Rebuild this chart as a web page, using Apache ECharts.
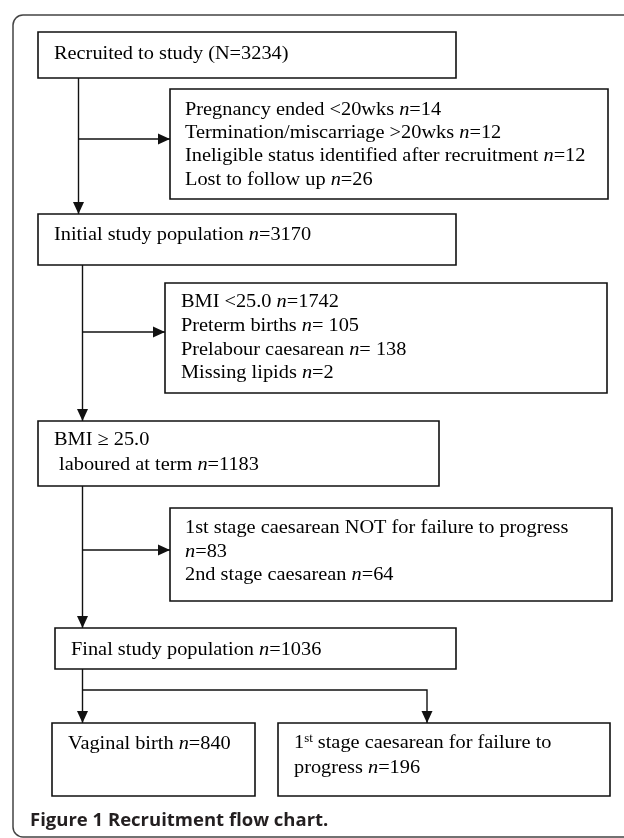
<!DOCTYPE html>
<html><head><meta charset="utf-8">
<script src="https://cdn.jsdelivr.net/npm/echarts@6/dist/echarts.min.js"></script>
<style>html,body{margin:0;padding:0;background:#fff}#c{width:624px;height:838px}</style>
</head><body><div id="c"></div>
<script>
// ---------------- data ----------------
const recruitedLabel = 'Recruited to study';
const recruitedN = 3234;
const exclusion1Labels = ['Pregnancy ended <20wks', 'Termination/miscarriage >20wks', 'Ineligible status identified after recruitment', 'Lost to follow up'];
const exclusion1Counts = [14, 12, 12, 26];
const initialLabel = 'Initial study population';
const initialN = 3170;
const exclusion2Labels = ['BMI <25.0', 'Preterm births', 'Prelabour caesarean', 'Missing lipids'];
const exclusion2Counts = [1742, 105, 138, 2];
const labouredLabels = ['BMI \u2265 25.0', ' laboured at term'];
const labouredN = 1183;
const exclusion3Labels = ['1st stage caesarean NOT for failure to progress', '2nd stage caesarean'];
const exclusion3Counts = [83, 64];
const finalLabel = 'Final study population';
const finalN = 1036;
const outcomeLabels = ['Vaginal birth', 'stage caesarean for failure to progress'];
const outcomeCounts = [840, 196];
const captionText = 'Figure 1 Recruitment flow chart.';

// ---------------- text lines (rich) ----------------
const nEq = (c, sp) => '{i|n}{r|=' + (sp ? ' ' : '') + c + '}';
const boxLines = [
  ['{r|' + recruitedLabel + ' (N=' + recruitedN + ')}'],
  exclusion1Labels.map((l, i) => '{r|' + l + ' }' + nEq(exclusion1Counts[i])),
  ['{r|' + initialLabel + ' }' + nEq(initialN)],
  exclusion2Labels.map((l, i) => '{r|' + l + ' }' + nEq(exclusion2Counts[i], i === 1 || i === 2)),
  ['{r|' + labouredLabels[0] + '}', '{r|' + labouredLabels[1] + ' }' + nEq(labouredN)],
  ['{r|' + exclusion3Labels[0] + '}', nEq(exclusion3Counts[0]), '{r|' + exclusion3Labels[1] + ' }' + nEq(exclusion3Counts[1])],
  ['{r|' + finalLabel + ' }' + nEq(finalN)],
  ['{r|' + outcomeLabels[0] + ' }' + nEq(outcomeCounts[0])],
  ['{r|1}{sup|st}{r| ' + outcomeLabels[1].replace(' progress', '') + '}', '{r|progress }' + nEq(outcomeCounts[1])]
];

// ---------------- layout (axis units) ----------------
const boxRects = [
  [38, 32, 456, 78], [170, 89, 608, 199], [38, 214, 456, 265], [165, 283, 607, 393],
  [38, 421, 439, 486], [170, 508, 612, 601], [55, 628, 456, 669], [52, 723, 255, 796], [278, 723, 610, 796]
];
const textX = [[54], [185, 185, 185, 185], [54], [181, 181, 181, 181], [54, 54], [185, 185, 185], [71], [68], [294, 294]];
const textY = [
  [54], [110, 133, 156, 180], [235], [302, 326, 350, 373], [440, 465], [528, 552, 575], [650], [744], [743, 768]
];
const connectors = [
  [[78.5, 78], [78.5, 214]],
  [[78.5, 139], [170, 139]],
  [[82.5, 265], [82.5, 421]],
  [[82.5, 332], [165, 332]],
  [[82.5, 486], [82.5, 628]],
  [[82.5, 550], [170, 550]],
  [[82.5, 669], [82.5, 723]],
  [[82.5, 690], [427, 690], [427, 723]]
];

const FS = 19, SX = 1.07;
const rich = {
  r: { fontFamily: 'Liberation Serif', fontSize: FS, color: '#000' },
  i: { fontFamily: 'Liberation Serif', fontSize: FS, fontStyle: 'italic', color: '#000' },
  sup: { fontFamily: 'Liberation Serif', fontSize: 12, color: '#000', verticalAlign: 'top', padding: [0, 0, 8, 0] }
};

const chart = echarts.init(document.getElementById('c'), null, { renderer: 'canvas' });
chart.setOption({
  animation: false,
  backgroundColor: '#fff',
  title: {
    text: captionText, left: 25, top: 806,
    textStyle: { fontFamily: 'Open Sans', fontWeight: 'bold', fontSize: 18.5, color: '#231f20' }
  },
  graphic: [{
    type: 'rect', shape: { x: 13, y: 15, width: 640, height: 822, r: 10 },
    style: { fill: 'none', stroke: '#444', lineWidth: 1.5 }, silent: true
  }],
  grid: { left: 0, right: 0, top: 0, bottom: 0 },
  xAxis: { type: 'value', min: 0, max: 624, show: false },
  yAxis: { type: 'value', min: 0, max: 838, inverse: true, show: false },
  series: [
    {
      type: 'custom', silent: true, clip: false,
      data: boxRects.map((b, i) => [i]),
      renderItem: function (params, api) {
        const i = params.dataIndex;
        const b = boxRects[i];
        const p0 = api.coord([b[0], b[1]]);
        const p1 = api.coord([b[2], b[3]]);
        const children = [{
          type: 'rect',
          shape: { x: p0[0], y: p0[1], width: p1[0] - p0[0], height: p1[1] - p0[1] },
          style: { fill: '#fff', stroke: '#111', lineWidth: 1.6 }
        }];
        boxLines[i].forEach((t, k) => {
          const tp = api.coord([textX[i][k], textY[i][k]]);
          children.push({
            type: 'text', x: tp[0], y: tp[1], scaleX: SX,
            style: { text: t, x: 0, y: 0, verticalAlign: 'middle', align: 'left', rich: rich }
          });
        });
        return { type: 'group', children: children };
      }
    },
    {
      type: 'custom', silent: true, clip: false,
      data: connectors.map((c, i) => [i]),
      renderItem: function (params, api) {
        const pts = connectors[params.dataIndex].map(p => api.coord(p));
        const a = pts[pts.length - 2], e = pts[pts.length - 1];
        const dx = e[0] - a[0], dy = e[1] - a[1];
        const len = Math.sqrt(dx * dx + dy * dy);
        const ux = dx / len, uy = dy / len;
        const L = 12, W = 5.5;
        const bx = e[0] - ux * L, by = e[1] - uy * L;
        return {
          type: 'group', children: [
            { type: 'polyline', shape: { points: pts }, style: { stroke: '#111', lineWidth: 1.4, fill: 'none' } },
            { type: 'polygon', shape: { points: [[e[0], e[1]], [bx - uy * W, by + ux * W], [bx + uy * W, by - ux * W]] }, style: { fill: '#111' } }
          ]
        };
      }
    }
  ]
});
</script>
</body></html>
